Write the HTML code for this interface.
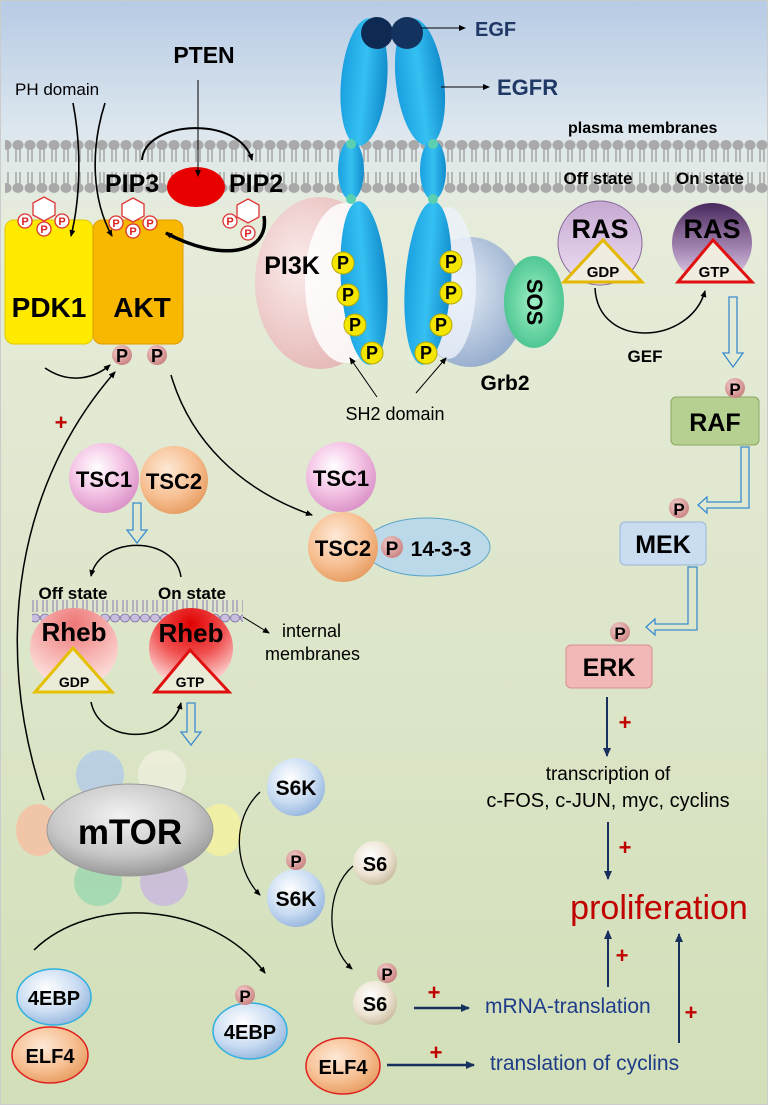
<!DOCTYPE html>
<html><head><meta charset="utf-8"><style>
html,body{margin:0;padding:0;background:#fff}
svg{display:block}
text{font-family:"Liberation Sans",sans-serif}
.b{font-weight:bold}
</style></head><body>
<svg width="768" height="1105" viewBox="0 0 768 1105" xmlns="http://www.w3.org/2000/svg">
<defs>
<linearGradient id="bg" x1="0" y1="0" x2="0" y2="1">
<stop offset="0" stop-color="#b7cbe5"/><stop offset="0.12" stop-color="#dde7ee"/><stop offset="0.2" stop-color="#e6ecda"/><stop offset="1" stop-color="#d2dfb8"/>
</linearGradient>
<linearGradient id="blueR" x1="0" y1="0" x2="1" y2="0"><stop offset="0" stop-color="#1aa0e0"/><stop offset="0.5" stop-color="#35c0f2"/><stop offset="1" stop-color="#118ccc"/></linearGradient>
<radialGradient id="pink" cx="0.4" cy="0.35" r="0.7"><stop offset="0" stop-color="#fff"/><stop offset="0.5" stop-color="#f5c6e6"/><stop offset="1" stop-color="#d98fc6"/></radialGradient>
<radialGradient id="orng" cx="0.4" cy="0.35" r="0.7"><stop offset="0" stop-color="#fde9d6"/><stop offset="0.6" stop-color="#f7bf92"/><stop offset="1" stop-color="#e59a5e"/></radialGradient>
<radialGradient id="lblue" cx="0.4" cy="0.35" r="0.7"><stop offset="0" stop-color="#fff"/><stop offset="0.6" stop-color="#c9dcf2"/><stop offset="1" stop-color="#93b3dc"/></radialGradient>
<radialGradient id="cream" cx="0.4" cy="0.35" r="0.7"><stop offset="0" stop-color="#fff"/><stop offset="0.6" stop-color="#ede4d3"/><stop offset="1" stop-color="#c7b99d"/></radialGradient>
<radialGradient id="pp" cx="0.4" cy="0.35" r="0.7"><stop offset="0" stop-color="#f5d0cf"/><stop offset="1" stop-color="#c87f7d"/></radialGradient>
<radialGradient id="gray" cx="0.45" cy="0.35" r="0.7"><stop offset="0" stop-color="#f2f2f2"/><stop offset="0.6" stop-color="#c8c8c8"/><stop offset="1" stop-color="#8f8f8f"/></radialGradient>
<radialGradient id="rhebOff" cx="0.5" cy="0.2" r="0.8"><stop offset="0" stop-color="#e77"/><stop offset="1" stop-color="#fde6e2"/></radialGradient>
<radialGradient id="rhebOn" cx="0.5" cy="0.2" r="0.8"><stop offset="0" stop-color="#e00000"/><stop offset="0.5" stop-color="#f05050"/><stop offset="1" stop-color="#fde6e2"/></radialGradient>
<linearGradient id="rasOff" x1="0" y1="0" x2="0" y2="1"><stop offset="0" stop-color="#c6a8d2"/><stop offset="1" stop-color="#eee0f2"/></linearGradient>
<linearGradient id="rasOn" x1="0" y1="0" x2="0" y2="1"><stop offset="0" stop-color="#4a2a5e"/><stop offset="0.6" stop-color="#a88ab6"/><stop offset="1" stop-color="#e8d8ee"/></linearGradient>
<radialGradient id="pi3k" cx="0.35" cy="0.4" r="0.7"><stop offset="0" stop-color="#fbeceb"/><stop offset="1" stop-color="#e3b4b2"/></radialGradient>
<radialGradient id="grb" cx="0.4" cy="0.4" r="0.7"><stop offset="0" stop-color="#e6eef8"/><stop offset="1" stop-color="#8ea6c8"/></radialGradient>
<radialGradient id="sos" cx="0.5" cy="0.5" r="0.6"><stop offset="0" stop-color="#9ff0c4"/><stop offset="1" stop-color="#3fbf8a"/></radialGradient>
<marker id="ah" markerWidth="8" markerHeight="8" refX="6" refY="3" orient="auto" markerUnits="userSpaceOnUse"><path d="M0,0 L7,3 L0,6 z" fill="#000"/></marker>
<marker id="an" markerWidth="10" markerHeight="10" refX="8" refY="4" orient="auto" markerUnits="userSpaceOnUse"><path d="M0,0 L9,4 L0,8 z" fill="#17305e"/></marker>
<pattern id="lip" x="0" y="138" width="12" height="58" patternUnits="userSpaceOnUse">
<ellipse cx="6" cy="7" rx="5.5" ry="5" fill="#a9a9a9"/>
<path d="M4,11 V24 M8,11 V24 M4,34 V46 M8,34 V46" stroke="#a9a9a9" stroke-width="1.6"/>
<ellipse cx="6" cy="50" rx="5.5" ry="5" fill="#a9a9a9"/>
</pattern>
<pattern id="ilip" x="0" y="598" width="10" height="26" patternUnits="userSpaceOnUse">
<path d="M3,2 V14 M7,2 V14" stroke="#8a7ab0" stroke-width="1"/>
<ellipse cx="5" cy="20" rx="4.5" ry="4" fill="#c9bde0" stroke="#7a6aa0" stroke-width="0.8"/>
</pattern>
</defs>
<rect width="768" height="1105" fill="url(#bg)"/>
<rect x="0.5" y="0.5" width="767" height="1104" fill="none" stroke="#ccc"/>
<rect x="5" y="138" width="763" height="58" fill="url(#lip)"/>

<ellipse cx="364" cy="82" rx="23" ry="64" fill="url(#blueR)" transform="rotate(5 364 82)"/>
<ellipse cx="420" cy="82" rx="24" ry="64" fill="url(#blueR)" transform="rotate(-7 420 82)"/>
<ellipse cx="351" cy="170" rx="13" ry="30" fill="url(#blueR)"/>
<ellipse cx="433" cy="170" rx="13" ry="30" fill="url(#blueR)"/>
<circle cx="351" cy="144" r="5" fill="#5ad0b0"/><circle cx="433" cy="144" r="5" fill="#5ad0b0"/>
<ellipse cx="470" cy="302" rx="55" ry="65" fill="url(#grb)"/>
<ellipse cx="534" cy="302" rx="30" ry="46" fill="url(#sos)"/>
<text x="534" y="302" class="b" font-size="22" text-anchor="middle" transform="rotate(90 534 302)" dy="7">SOS</text>
<ellipse cx="320" cy="283" rx="65" ry="86" fill="url(#pi3k)"/>
<ellipse cx="345" cy="283" rx="40" ry="80" fill="#fff" opacity="0.85"/>
<ellipse cx="448" cy="283" rx="28" ry="76" fill="#eef3fb" opacity="0.8"/>
<ellipse cx="364" cy="283" rx="23" ry="82" fill="url(#blueR)" transform="rotate(-4 364 283)"/>
<ellipse cx="428" cy="283" rx="23" ry="82" fill="url(#blueR)" transform="rotate(4 428 283)"/>
<circle cx="351" cy="199" r="5" fill="#5ad0b0"/><circle cx="433" cy="199" r="5" fill="#5ad0b0"/>
<g fill="#f5e600" stroke="#b6a800" stroke-width="1">
<circle cx="343" cy="263" r="11"/><circle cx="348" cy="295" r="11"/><circle cx="355" cy="325" r="11"/><circle cx="372" cy="353" r="11"/>
<circle cx="451" cy="262" r="11"/><circle cx="451" cy="293" r="11"/><circle cx="441" cy="325" r="11"/><circle cx="426" cy="353" r="11"/>
</g>
<g class="b" font-size="18" text-anchor="middle">
<text x="343" y="269">P</text><text x="348" y="301">P</text><text x="355" y="331">P</text><text x="372" y="359">P</text>
<text x="451" y="268">P</text><text x="451" y="299">P</text><text x="441" y="331">P</text><text x="426" y="359">P</text>
</g>
<text x="292" y="274" class="b" font-size="25" text-anchor="middle">PI3K</text>
<text x="505" y="390" class="b" font-size="21" text-anchor="middle">Grb2</text>
<text x="395" y="420" font-size="18" text-anchor="middle">SH2 domain</text>
<path d="M377,397 L350,358" stroke="#000" fill="none" marker-end="url(#ah)"/>
<path d="M416,393 L446,358" stroke="#000" fill="none" marker-end="url(#ah)"/>
<circle cx="377" cy="33" r="16" fill="#0e2a52"/><circle cx="407" cy="33" r="16" fill="#14325e"/>
<path d="M421,28 L465,28" stroke="#000" marker-end="url(#ah)"/>
<text x="475" y="36" class="b" font-size="20" fill="#1f3864">EGF</text>
<path d="M441,87 L489,87" stroke="#000" marker-end="url(#ah)"/>
<text x="497" y="95" class="b" font-size="22" fill="#1f3864">EGFR</text>
<text x="568" y="133" class="b" font-size="16">plasma membranes</text>

<text x="204" y="63" class="b" font-size="23" text-anchor="middle">PTEN</text>
<text x="15" y="95" font-size="17">PH domain</text>
<path d="M142,160 C145,120 240,115 252,160" stroke="#000" stroke-width="2" fill="none" marker-end="url(#ah)"/>
<ellipse cx="196" cy="187" rx="29" ry="20" fill="#e80000"/>
<path d="M198,80 L198,176" stroke="#000" fill="none" marker-end="url(#ah)"/>
<text x="105" y="192" class="b" font-size="25">PIP3</text>
<text x="229" y="192" class="b" font-size="25">PIP2</text>
<rect x="5" y="220" width="88" height="124" rx="9" fill="#ffea00" stroke="#e0c800"/>
<rect x="93" y="220" width="90" height="124" rx="9" fill="#f8b700" stroke="#e09c00"/>
<text x="49" y="317" class="b" font-size="28" text-anchor="middle">PDK1</text>
<text x="142" y="317" class="b" font-size="28" text-anchor="middle">AKT</text>
<g fill="#fff" stroke="#d33" stroke-width="1.3">
<polygon points="44,197 55,203 55,215 44,221 33,215 33,203"/>
<polygon points="133,198 144,204 144,216 133,222 122,216 122,204"/>
<polygon points="248,199 259,205 259,217 248,223 237,217 237,205"/>
<circle cx="25" cy="221" r="7"/><circle cx="62" cy="221" r="7"/><circle cx="44" cy="229" r="7"/>
<circle cx="116" cy="223" r="7"/><circle cx="150" cy="223" r="7"/><circle cx="133" cy="231" r="7"/>
<circle cx="230" cy="221" r="7"/><circle cx="248" cy="233" r="7"/>
</g>
<g fill="#d22" class="b" font-size="11" text-anchor="middle">
<text x="25" y="225">P</text><text x="62" y="225">P</text><text x="44" y="233">P</text>
<text x="116" y="227">P</text><text x="150" y="227">P</text><text x="133" y="235">P</text>
<text x="230" y="225">P</text><text x="248" y="237">P</text>
</g>
<path d="M73,103 C82,150 80,200 71,236" stroke="#000" stroke-width="1.6" fill="none" marker-end="url(#ah)"/>
<path d="M105,103 C90,150 92,200 112,236" stroke="#000" stroke-width="1.6" fill="none" marker-end="url(#ah)"/>
<path d="M264,216 C270,255 220,262 166,233" stroke="#000" stroke-width="3.5" fill="none" marker-end="url(#ah)"/>
<circle cx="122" cy="355" r="10" fill="url(#pp)"/><circle cx="157" cy="355" r="10" fill="url(#pp)"/>
<text x="122" y="362" class="b" font-size="18" text-anchor="middle">P</text>
<text x="157" y="362" class="b" font-size="18" text-anchor="middle">P</text>
<path d="M45,368 C70,385 95,378 110,365" stroke="#000" stroke-width="1.5" fill="none" marker-end="url(#ah)"/>
<path d="M44,800 C-10,640 20,480 115,372" stroke="#000" stroke-width="1.5" fill="none" marker-end="url(#ah)"/>
<text x="61" y="430" fill="#c00000" class="b" font-size="22" text-anchor="middle">+</text>
<path d="M171,375 C190,440 240,490 312,515" stroke="#000" stroke-width="1.5" fill="none" marker-end="url(#ah)"/>

<text x="598" y="184" class="b" font-size="17" text-anchor="middle">Off state</text>
<text x="710" y="184" class="b" font-size="17" text-anchor="middle">On state</text>
<circle cx="600" cy="243" r="42" fill="url(#rasOff)" stroke="#8a6a9a"/>
<circle cx="712" cy="243" r="40" fill="url(#rasOn)"/>
<text x="600" y="238" class="b" font-size="27" text-anchor="middle">RAS</text>
<text x="712" y="238" class="b" font-size="27" text-anchor="middle">RAS</text>
<polygon points="603,240 642,282 564,282" fill="#f0ece0" stroke="#e5b800" stroke-width="3"/>
<polygon points="713,240 752,282 678,282" fill="#f0ece0" stroke="#e01010" stroke-width="3"/>
<text x="603" y="277" class="b" font-size="15" text-anchor="middle">GDP</text>
<text x="714" y="277" class="b" font-size="15" text-anchor="middle">GTP</text>
<path d="M595,288 C598,350 690,345 705,291" stroke="#000" stroke-width="1.5" fill="none" marker-end="url(#ah)"/>
<text x="645" y="362" class="b" font-size="17" text-anchor="middle">GEF</text>
<path d="M729,297 h8 v56 h6 l-10,14 l-10,-14 h6 z" fill="none" stroke="#3a8cd0" stroke-width="1.3"/>
<rect x="671" y="397" width="88" height="48" rx="5" fill="#b5d090" stroke="#8aa860"/>
<text x="715" y="431" class="b" font-size="25" text-anchor="middle">RAF</text>
<circle cx="735" cy="388" r="10" fill="url(#pp)"/><text x="735" y="395" class="b" font-size="17" text-anchor="middle">P</text>
<path d="M741,447 v55 h-34 v-5 l-9,8 l9,8 v-5 h42 v-61 z" fill="none" stroke="#3a8cd0" stroke-width="1.3"/>
<circle cx="679" cy="508" r="10" fill="url(#pp)"/><text x="679" y="515" class="b" font-size="17" text-anchor="middle">P</text>
<rect x="620" y="522" width="86" height="43" rx="5" fill="#c9dcf0" stroke="#9ab6d8"/>
<text x="663" y="553" class="b" font-size="25" text-anchor="middle">MEK</text>
<path d="M688,567 v57 h-33 v-5 l-9,8 l9,8 v-5 h42 v-63 z" fill="none" stroke="#3a8cd0" stroke-width="1.3"/>
<circle cx="620" cy="632" r="10" fill="url(#pp)"/><text x="620" y="639" class="b" font-size="17" text-anchor="middle">P</text>
<rect x="566" y="645" width="86" height="43" rx="5" fill="#f2b8b8" stroke="#d89090"/>
<text x="609" y="676" class="b" font-size="25" text-anchor="middle">ERK</text>
<path d="M607,697 L607,756" stroke="#17305e" stroke-width="2" marker-end="url(#an)"/>
<text x="625" y="730" fill="#c00000" class="b" font-size="22" text-anchor="middle">+</text>
<text x="608" y="780" font-size="19" text-anchor="middle">transcription of</text>
<text x="608" y="807" font-size="20" text-anchor="middle">c-FOS, c-JUN, myc, cyclins</text>
<path d="M608,822 L608,879" stroke="#17305e" stroke-width="2" marker-end="url(#an)"/>
<text x="625" y="855" fill="#c00000" class="b" font-size="22" text-anchor="middle">+</text>
<text x="659" y="919" fill="#c00000" font-size="34" text-anchor="middle">proliferation</text>
<path d="M608,987 L608,931" stroke="#17305e" stroke-width="2" marker-end="url(#an)"/>
<text x="622" y="963" fill="#c00000" class="b" font-size="22" text-anchor="middle">+</text>
<path d="M679,1043 L679,934" stroke="#17305e" stroke-width="2" marker-end="url(#an)"/>
<text x="691" y="1020" fill="#c00000" class="b" font-size="22" text-anchor="middle">+</text>

<circle cx="104" cy="478" r="35" fill="url(#pink)"/>
<circle cx="174" cy="480" r="34" fill="url(#orng)"/>
<text x="104" y="487" class="b" font-size="22" text-anchor="middle">TSC1</text>
<text x="174" y="489" class="b" font-size="22" text-anchor="middle">TSC2</text>
<path d="M133,503 h8 v27 h6 l-10,13 l-10,-13 h6 z" fill="none" stroke="#3a8cd0" stroke-width="1.3"/>
<circle cx="341" cy="477" r="35" fill="url(#pink)"/>
<text x="341" y="486" class="b" font-size="22" text-anchor="middle">TSC1</text>
<ellipse cx="427" cy="547" rx="63" ry="29" fill="#bcd9ea" stroke="#5aa6c8"/>
<circle cx="343" cy="547" r="35" fill="url(#orng)"/>
<circle cx="392" cy="547" r="11" fill="url(#pp)"/>
<text x="343" y="556" class="b" font-size="22" text-anchor="middle">TSC2</text>
<text x="392" y="555" class="b" font-size="19" text-anchor="middle">P</text>
<text x="441" y="556" class="b" font-size="21" text-anchor="middle">14-3-3</text>
<path d="M181,577 C175,535 100,535 91,576" stroke="#000" stroke-width="1.5" fill="none" marker-end="url(#ah)"/>
<rect x="32" y="598" width="211" height="26" fill="url(#ilip)"/>
<text x="73" y="599" class="b" font-size="17" text-anchor="middle">Off state</text>
<text x="192" y="599" class="b" font-size="17" text-anchor="middle">On state</text>
<ellipse cx="74" cy="648" rx="44" ry="40" fill="url(#rhebOff)"/>
<ellipse cx="191" cy="648" rx="42" ry="40" fill="url(#rhebOn)"/>
<text x="74" y="641" class="b" font-size="26" text-anchor="middle">Rheb</text>
<text x="191" y="642" class="b" font-size="26" text-anchor="middle">Rheb</text>
<polygon points="73,648 112,692 35,692" fill="#ecebd8" stroke="#e5c000" stroke-width="3"/>
<polygon points="190,650 229,692 155,692" fill="#ecebd8" stroke="#e01010" stroke-width="3"/>
<text x="74" y="687" class="b" font-size="14" text-anchor="middle">GDP</text>
<text x="190" y="687" class="b" font-size="14" text-anchor="middle">GTP</text>
<path d="M243,617 L269,633" stroke="#000" marker-end="url(#ah)"/>
<text x="282" y="637" font-size="18">internal</text>
<text x="265" y="660" font-size="18">membranes</text>
<path d="M91,702 C100,745 170,745 181,703" stroke="#000" stroke-width="1.5" fill="none" marker-end="url(#ah)"/>
<path d="M187,703 h8 v29 h6 l-10,13 l-10,-13 h6 z" fill="none" stroke="#3a8cd0" stroke-width="1.3"/>

<g opacity="0.85">
<ellipse cx="100" cy="775" rx="24" ry="25" fill="#b5cce8"/>
<ellipse cx="162" cy="775" rx="24" ry="25" fill="#eeeede"/>
<ellipse cx="38" cy="830" rx="22" ry="26" fill="#f6c2a4"/>
<ellipse cx="220" cy="830" rx="22" ry="26" fill="#f4f2a0"/>
<ellipse cx="98" cy="882" rx="24" ry="24" fill="#9ed8b0"/>
<ellipse cx="164" cy="882" rx="24" ry="24" fill="#c9b9dd"/>
</g>
<ellipse cx="130" cy="830" rx="83" ry="46" fill="url(#gray)" stroke="#999"/>
<text x="130" y="844" class="b" font-size="35" text-anchor="middle">mTOR</text>
<circle cx="296" cy="787" r="29" fill="url(#lblue)"/>
<text x="296" y="795" class="b" font-size="21" text-anchor="middle">S6K</text>
<path d="M260,792 C230,820 235,870 260,895" stroke="#000" stroke-width="1.3" fill="none" marker-end="url(#ah)"/>
<circle cx="296" cy="898" r="29" fill="url(#lblue)"/>
<circle cx="296" cy="860" r="10" fill="url(#pp)"/>
<text x="296" y="867" class="b" font-size="17" text-anchor="middle">P</text>
<text x="296" y="906" class="b" font-size="21" text-anchor="middle">S6K</text>
<circle cx="375" cy="863" r="22" fill="url(#cream)"/>
<text x="375" y="871" class="b" font-size="20" text-anchor="middle">S6</text>
<path d="M353,866 C325,890 325,945 352,969" stroke="#000" stroke-width="1.3" fill="none" marker-end="url(#ah)"/>
<circle cx="375" cy="1003" r="22" fill="url(#cream)"/>
<circle cx="387" cy="973" r="10" fill="url(#pp)"/>
<text x="387" y="980" class="b" font-size="17" text-anchor="middle">P</text>
<text x="375" y="1011" class="b" font-size="20" text-anchor="middle">S6</text>
<path d="M34,950 C90,895 210,900 265,973" stroke="#000" stroke-width="1.5" fill="none" marker-end="url(#ah)"/>
<ellipse cx="54" cy="997" rx="37" ry="28" fill="url(#lblue)" stroke="#30b0e0" stroke-width="1.5"/>
<text x="54" y="1005" class="b" font-size="20" text-anchor="middle">4EBP</text>
<ellipse cx="50" cy="1055" rx="38" ry="28" fill="url(#orng)" stroke="#e02020" stroke-width="1.5"/>
<text x="50" y="1063" class="b" font-size="20" text-anchor="middle">ELF4</text>
<ellipse cx="250" cy="1031" rx="37" ry="28" fill="url(#lblue)" stroke="#30b0e0" stroke-width="1.5"/>
<circle cx="245" cy="995" r="10" fill="url(#pp)"/>
<text x="245" y="1002" class="b" font-size="17" text-anchor="middle">P</text>
<text x="250" y="1039" class="b" font-size="20" text-anchor="middle">4EBP</text>
<ellipse cx="343" cy="1066" rx="37" ry="28" fill="url(#orng)" stroke="#e02020" stroke-width="1.5"/>
<text x="343" y="1074" class="b" font-size="20" text-anchor="middle">ELF4</text>
<path d="M414,1008 L469,1008" stroke="#17305e" stroke-width="2.5" marker-end="url(#an)"/>
<text x="434" y="1000" fill="#c00000" class="b" font-size="22" text-anchor="middle">+</text>
<text x="485" y="1013" font-size="21" fill="#1f3c88">mRNA-translation</text>
<path d="M387,1065 L474,1065" stroke="#17305e" stroke-width="2.5" marker-end="url(#an)"/>
<text x="436" y="1060" fill="#c00000" class="b" font-size="22" text-anchor="middle">+</text>
<text x="490" y="1070" font-size="21" fill="#1f3c88">translation of cyclins</text>
</svg>
</body></html>
